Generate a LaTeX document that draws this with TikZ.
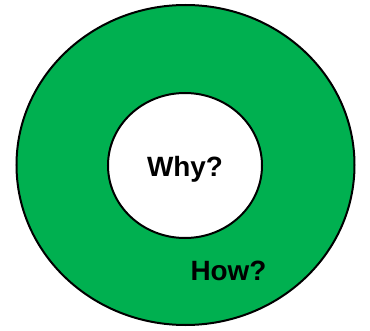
\documentclass[tikz,border=0pt]{standalone}
\usepackage{fontspec}
\setmainfont{Liberation Sans}
\usetikzlibrary{shapes.geometric}
\definecolor{ringgreen}{HTML}{00B050}
\tikzset{
  ring/.style={ellipse, draw=black, line width=2bp, inner sep=0pt},
  label/.style={font=\bfseries\fontsize{28}{32}\selectfont, text=black, inner sep=0pt, anchor=base}
}
\begin{document}
\begin{tikzpicture}[x=1bp,y=1bp]
\useasboundingbox (0,0) rectangle (370,331);
\node[ring, fill=ringgreen, minimum width=338bp, minimum height=320bp] (outer) at (185.5,166) {};
\node[ring, fill=white, minimum width=154bp, minimum height=145bp] (inner) at (185,165.5) {};
\node[label] (why) at (185,154.3) {Why?};
\node[label] (how) at (228.5,51) {How?};
\end{tikzpicture}
\end{document}
